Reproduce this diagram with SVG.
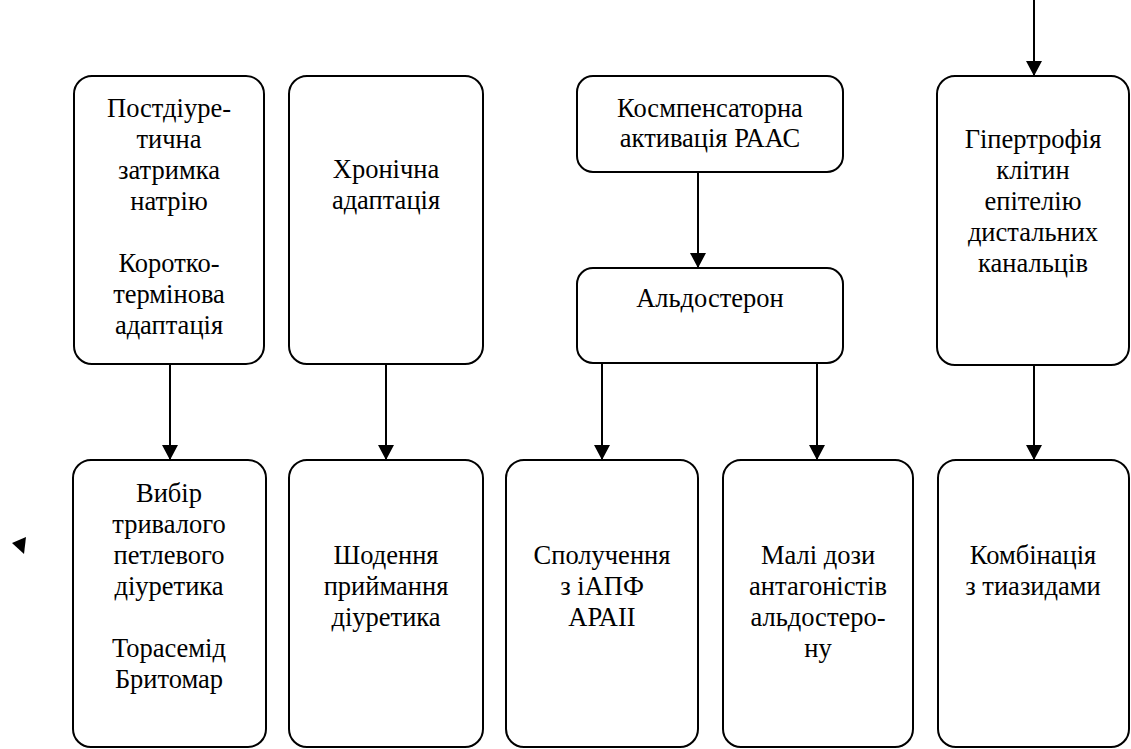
<svg xmlns="http://www.w3.org/2000/svg" width="1131" height="749" viewBox="0 0 1131 749">
<defs>
<style>
.box{fill:#fff;stroke:#000;stroke-width:2}
text{font-family:'Liberation Serif','Times New Roman',serif;font-size:26.5px;fill:#000;text-anchor:middle}
.c{stroke:#000;stroke-width:2;fill:none;marker-end:url(#ah)}
</style>
<marker id="ah" markerWidth="18" markerHeight="16" refX="15" refY="8" orient="auto" markerUnits="userSpaceOnUse">
<path d="M0,0 L15,8 L0,16 Z" fill="#000"/>
</marker>
</defs>
<rect width="1131" height="749" fill="#fff"/>
<g id="connectors">
<line class="c" x1="170" y1="364" x2="170" y2="460"/>
<line class="c" x1="386" y1="364" x2="386" y2="460"/>
<line class="c" x1="698" y1="172" x2="698" y2="268"/>
<line class="c" x1="602" y1="363" x2="602" y2="460"/>
<line class="c" x1="817" y1="363" x2="817" y2="460"/>
<line class="c" x1="1034" y1="365" x2="1034" y2="460"/>
<line class="c" x1="1034" y1="0" x2="1034" y2="76"/>
</g>
<g id="n1">
<rect class="box" x="74" y="76" width="190" height="288" rx="18"/>
<text><tspan x="169" y="117">Постдіуре-</tspan><tspan x="169" y="148">тична</tspan><tspan x="169" y="179">затримка</tspan><tspan x="169" y="210">натрію</tspan><tspan x="169" y="272">Коротко-</tspan><tspan x="169" y="303">термінова</tspan><tspan x="169" y="334">адаптація</tspan></text>
</g>
<g id="n2">
<rect class="box" x="289" y="76" width="194" height="288" rx="18"/>
<text><tspan x="386" y="178">Хронічна</tspan><tspan x="386" y="209">адаптація</tspan></text>
</g>
<g id="n3">
<rect class="box" x="577" y="76" width="266" height="96" rx="16"/>
<text><tspan x="710" y="117">Космпенсаторна</tspan><tspan x="710" y="147">активація РААС</tspan></text>
</g>
<g id="n4">
<rect class="box" x="577" y="268" width="266" height="95" rx="16"/>
<text x="710" y="307">Альдостерон</text>
</g>
<g id="n5">
<rect class="box" x="937" y="76" width="192" height="289" rx="18"/>
<text><tspan x="1033" y="148">Гіпертрофія</tspan><tspan x="1033" y="179">клітин</tspan><tspan x="1033" y="210">епітелію</tspan><tspan x="1033" y="241">дистальних</tspan><tspan x="1033" y="272">канальців</tspan></text>
</g>
<g id="n6">
<rect class="box" x="73" y="460" width="193" height="287" rx="18"/>
<text><tspan x="169" y="502">Вибір</tspan><tspan x="169" y="533">тривалого</tspan><tspan x="169" y="564">петлевого</tspan><tspan x="169" y="595">діуретика</tspan><tspan x="169" y="657">Торасемід</tspan><tspan x="169" y="688">Бритомар</tspan></text>
</g>
<g id="n7">
<rect class="box" x="289" y="460" width="194" height="287" rx="18"/>
<text><tspan x="386" y="564">Шодення</tspan><tspan x="386" y="595">приймання</tspan><tspan x="386" y="626">діуретика</tspan></text>
</g>
<g id="n8">
<rect class="box" x="506" y="460" width="192" height="287" rx="18"/>
<text><tspan x="602" y="564">Сполучення</tspan><tspan x="602" y="595">з іАПФ</tspan><tspan x="602" y="626">АРАІІ</tspan></text>
</g>
<g id="n9">
<rect class="box" x="723" y="460" width="190" height="287" rx="18"/>
<text><tspan x="818" y="564">Малі дози</tspan><tspan x="818" y="595">антагоністів</tspan><tspan x="818" y="626">альдостеро-</tspan><tspan x="818" y="657">ну</tspan></text>
</g>
<g id="n10">
<rect class="box" x="938" y="460" width="191" height="287" rx="18"/>
<text><tspan x="1033" y="564">Комбінація</tspan><tspan x="1033" y="595">з тиазидами</tspan></text>
</g>
<polygon points="12,543 26,537 24,554" fill="#000"/>
</svg>
